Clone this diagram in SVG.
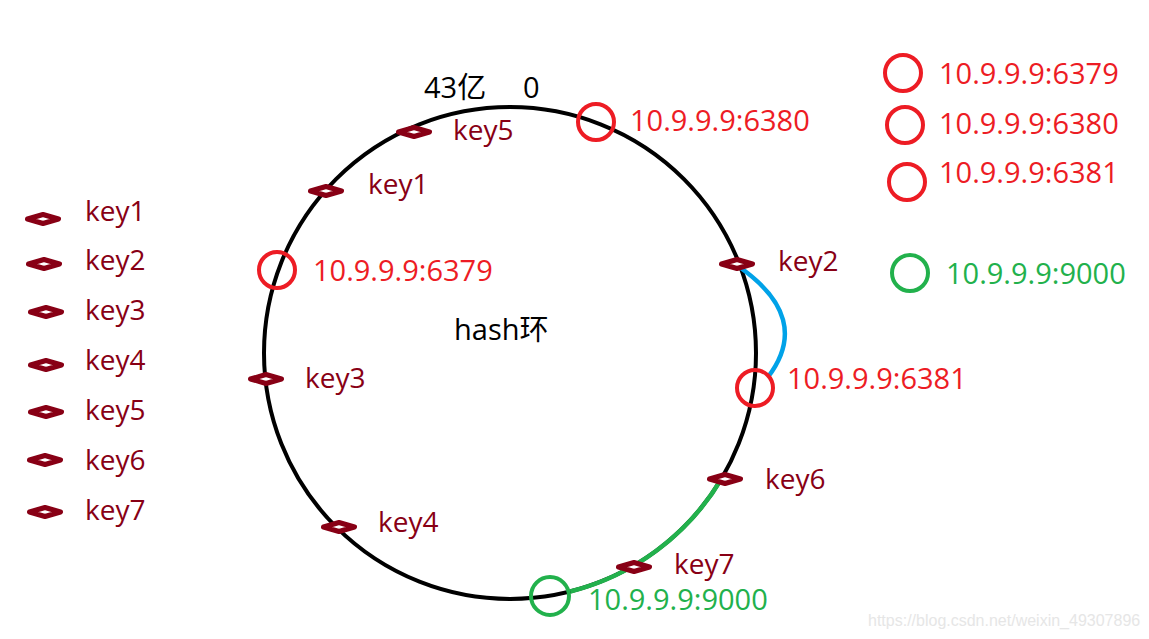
<svg xmlns="http://www.w3.org/2000/svg" width="1149" height="639" viewBox="0 0 1149 639">
<defs>
<style>
.t{font-family:"Open Sans","Noto Sans","Noto Sans CJK SC",sans-serif;font-size:29px}
.k{fill:#880015;font-size:28px}
.r{fill:#ed1c24}
.g{fill:#22b14c}
.b{fill:#000}
.rc{fill:none;stroke:#ed1c24;stroke-width:4}
.gc{fill:none;stroke:#22b14c;stroke-width:4}
.d{fill:#fff;stroke:#880015;stroke-width:5;stroke-linejoin:round}
</style>
<polygon id="dia" class="d" points="-15.5,0 0,-4.5 15.5,0 0,4.5"/>
</defs>
<rect width="1149" height="639" fill="#fff"/>
<g id="connectors">
<circle id="ring" cx="510" cy="353" r="246" fill="none" stroke="#000" stroke-width="4"/>
<path id="green-arc" d="M722.2,477.5 A246,246 0 0 1 570.3,591.5" fill="none" stroke="#22b14c" stroke-width="4.5"/>
<path id="blue-arc" d="M738,266 Q813,318 768,377" fill="none" stroke="#00a2e8" stroke-width="4.5"/>
</g>
<g id="ring-labels">
<text class="t b" x="424" y="98">43亿</text>
<text class="t b" x="523" y="98">0</text>
<text class="t b" x="454" y="340">hash环</text>
</g>
<g id="node-6380"><circle class="rc" cx="596" cy="122" r="18"/><text class="t r" x="630" y="131">10.9.9.9:6380</text></g>
<g id="node-6379"><circle class="rc" cx="277" cy="270" r="18"/><text class="t r" x="313" y="281">10.9.9.9:6379</text></g>
<g id="node-6381"><circle class="rc" cx="755" cy="388" r="18"/><text class="t r" x="787" y="389">10.9.9.9:6381</text></g>
<g id="node-9000"><circle class="gc" cx="550" cy="596" r="19"/><text class="t g" x="588" y="610">10.9.9.9:9000</text></g>
<g id="ring-key5"><use href="#dia" x="414" y="132"/><text class="t k" x="453" y="140">key5</text></g>
<g id="ring-key1"><use href="#dia" x="326" y="191"/><text class="t k" x="368" y="194">key1</text></g>
<g id="ring-key2"><use href="#dia" x="737" y="264"/><text class="t k" x="778" y="271">key2</text></g>
<g id="ring-key3"><use href="#dia" x="266" y="379"/><text class="t k" x="305" y="388">key3</text></g>
<g id="ring-key4"><use href="#dia" x="339" y="527"/><text class="t k" x="378" y="532">key4</text></g>
<g id="ring-key6"><use href="#dia" x="725" y="479"/><text class="t k" x="765" y="489">key6</text></g>
<g id="ring-key7"><use href="#dia" x="634" y="567"/><text class="t k" x="674" y="574">key7</text></g>
<g id="list-key1"><use href="#dia" x="43" y="219"/><text class="t k" x="85" y="221">key1</text></g>
<g id="list-key2"><use href="#dia" x="44" y="264"/><text class="t k" x="85" y="270">key2</text></g>
<g id="list-key3"><use href="#dia" x="46" y="312"/><text class="t k" x="85" y="320">key3</text></g>
<g id="list-key4"><use href="#dia" x="46" y="365"/><text class="t k" x="85" y="370">key4</text></g>
<g id="list-key5"><use href="#dia" x="46" y="412"/><text class="t k" x="85" y="420">key5</text></g>
<g id="list-key6"><use href="#dia" x="45" y="460"/><text class="t k" x="85" y="470">key6</text></g>
<g id="list-key7"><use href="#dia" x="45" y="512"/><text class="t k" x="85" y="520">key7</text></g>
<g id="legend-6379"><circle class="rc" cx="903" cy="73" r="18"/><text class="t r" x="939" y="84">10.9.9.9:6379</text></g>
<g id="legend-6380"><circle class="rc" cx="905" cy="125" r="18"/><text class="t r" x="939" y="134">10.9.9.9:6380</text></g>
<g id="legend-6381"><circle class="rc" cx="907" cy="182" r="18"/><text class="t r" x="939" y="183">10.9.9.9:6381</text></g>
<g id="legend-9000"><circle class="gc" cx="910" cy="273" r="18"/><text class="t g" x="946" y="284">10.9.9.9:9000</text></g>
<text x="868" y="626" font-family="Liberation Sans,Arial,sans-serif" font-size="16" fill="#e6e6e6">https://blog.csdn.net/weixin_49307896</text>
</svg>
